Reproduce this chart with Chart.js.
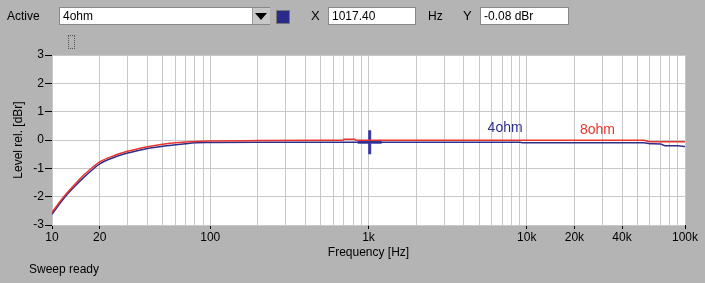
<!DOCTYPE html>
<html>
<head>
<meta charset="utf-8">
<style>
body { margin:0; background:#b4b4b4; font-family:"Liberation Sans", Arial, sans-serif; font-size:12px; color:#000; }
#wrap { position:relative; width:705px; height:283px; overflow:hidden; }
#wrap canvas { position:absolute; left:0; top:0; }
.lbl { position:absolute; }
.box { position:absolute; background:#fff; border:1px solid #888; box-sizing:border-box; height:18px; line-height:16px; padding-left:3px; }
</style>
</head>
<body>
<div id="wrap">
<canvas id="myChart" width="705" height="283"></canvas>
<span class="lbl" style="left:7px;top:9px">Active</span>
<div class="box" style="left:59px;top:7px;width:211px">4ohm</div>
<div style="position:absolute;left:252px;top:8px;width:17px;height:16px;background:#c8c8c8;border-left:1px solid #999"></div>
<div style="position:absolute;left:255px;top:13px;width:0;height:0;border-left:6px solid transparent;border-right:6px solid transparent;border-top:7px solid #000"></div>
<div style="position:absolute;left:276px;top:10px;width:14px;height:14px;background:#2a2a8a;border:1px solid #777;box-sizing:border-box"></div>
<span class="lbl" style="left:311px;top:8px;font-size:13px">X</span>
<div class="box" style="left:328px;top:7px;width:88px">1017.40</div>
<span class="lbl" style="left:428px;top:9px">Hz</span>
<span class="lbl" style="left:463px;top:8px;font-size:13px">Y</span>
<div class="box" style="left:480px;top:7px;width:89px">-0.08 dBr</div>
<div style="position:absolute;left:68px;top:35px;width:5px;height:12px;border:1px dotted #555"></div>
<span class="lbl" style="left:29px;top:262px">Sweep ready</span>
</div>

<script src="https://cdn.jsdelivr.net/npm/chart.js"></script>
<script>
// frequency points [Hz]
var freqs  = [10, 12, 14, 16, 18, 20, 25, 30, 35, 40, 50, 60, 70, 80, 100, 200, 500, 690, 700, 820, 830, 1000, 2000, 5000, 9000, 9500, 10000, 20000, 40000, 55000, 60000, 70000, 75000, 90000, 100000];
// 8 ohm level [dBr]
var ohm8   = [-2.55, -1.97, -1.55, -1.22, -0.97, -0.77, -0.54, -0.40, -0.31, -0.24, -0.15, -0.10, -0.07, -0.05, -0.035, -0.02, -0.01, -0.01, 0.03, 0.03, -0.01, -0.01, -0.01, -0.01, -0.01, -0.01, -0.01, -0.01, -0.01, -0.01, -0.06, -0.06, -0.06, -0.06, -0.06];
// 4 ohm level [dBr]
var ohm4   = [-2.62, -2.03, -1.62, -1.30, -1.05, -0.84, -0.60, -0.46, -0.37, -0.30, -0.22, -0.17, -0.13, -0.10, -0.09, -0.08, -0.08, -0.08, -0.08, -0.08, -0.08, -0.08, -0.08, -0.08, -0.08, -0.10, -0.10, -0.10, -0.10, -0.10, -0.13, -0.14, -0.20, -0.20, -0.23];
// cursor position
var cursorX = 1017.4;
var cursorY = -0.08;
// x-axis ticks
var gridFreqs = [];
for (var d = 10; d <= 10000; d *= 10) { for (var m = 1; m <= 9; m++) gridFreqs.push(d * m); }
gridFreqs.push(100000);
var xTickLabels = { 10: "10", 20: "20", 100: "100", 1000: "1k", 10000: "10k", 20000: "20k", 40000: "40k", 100000: "100k" };
var seriesLabels = [
  { text: "4ohm", x: 7300, y: 0.42, color: "#2e2e8c" },
  { text: "8ohm", x: 28000, y: 0.36, color: "#e8342c" }
];

var fontFam = '"Liberation Sans", Arial, sans-serif';

function pts(ys) {
  var out = [];
  for (var i = 0; i < freqs.length; i++) out.push({ x: freqs[i], y: ys[i] });
  return out;
}

var plotBg = {
  id: 'plotBg',
  beforeDraw: function(chart) {
    var a = chart.chartArea, c = chart.ctx;
    c.save(); c.fillStyle = '#ffffff'; c.fillRect(a.left, a.top, a.right - a.left, a.bottom - a.top); c.restore();
  },
  afterDatasetsDraw: function(chart) {
    var c = chart.ctx, xs = chart.scales.x, ys = chart.scales.y;
    c.save();
    c.font = '14px ' + fontFam;
    c.textAlign = 'center'; c.textBaseline = 'middle';
    for (var l of seriesLabels) {
      c.fillStyle = l.color;
      c.fillText(l.text, xs.getPixelForValue(l.x), ys.getPixelForValue(l.y));
    }
    c.restore();
  }
};

var ctx = document.getElementById('myChart').getContext('2d');
var myChart = new Chart(ctx, {
  type: 'line',
  data: {
    datasets: [{
      label: '8ohm',
      data: pts(ohm8),
      borderColor: '#e8342c',
      borderWidth: 1.5,
      pointRadius: 0,
      cubicInterpolationMode: 'monotone'
    }, {
      label: '4ohm',
      data: pts(ohm4),
      borderColor: '#2e2e8c',
      borderWidth: 1.5,
      pointRadius: 0,
      cubicInterpolationMode: 'monotone'
    }, {
      type: 'scatter',
      label: 'cursor',
      data: [{ x: cursorX, y: cursorY }],
      pointStyle: 'cross',
      pointRadius: 12,
      borderWidth: 3,
      borderColor: '#3a3aa8'
    }]
  },
  options: {
    animation: false,
    responsive: false,
    layout: { padding: { top: 55, right: 20, left: 0, bottom: 0 } },
    plugins: { legend: { display: false }, tooltip: { enabled: false } },
    scales: {
      x: {
        type: 'logarithmic',
        min: 10,
        max: 100000,
        afterBuildTicks: function(scale) { scale.ticks = gridFreqs.map(function(v) { return { value: v }; }); },
        afterFit: function(scale) { scale.height = 58; },
        ticks: {
          autoSkip: false, maxRotation: 0, padding: 1,
          color: '#000',
          font: { family: fontFam, size: 12 },
          callback: function(v) { return xTickLabels[v] || ''; }
        },
        grid: {
          color: '#c8c8c8',
          tickLength: 4,
          tickColor: function(c) { return (c.tick && xTickLabels[c.tick.value]) ? '#000' : 'rgba(0,0,0,0)'; }
        },
        border: { display: false },
        title: {
          display: true, text: 'Frequency [Hz]', color: '#000',
          font: { family: fontFam, size: 12 },
          padding: { top: 0, bottom: 23 }
        }
      },
      y: {
        min: -3, max: 3,
        afterFit: function(scale) { scale.width = 52; },
        ticks: {
          stepSize: 1, padding: 1, color: '#000',
          font: { family: fontFam, size: 12 }
        },
        grid: { color: '#c8c8c8', tickLength: 7, tickColor: '#000' },
        border: { display: false },
        title: {
          display: true, text: 'Level rel. [dBr]', color: '#000',
          font: { family: fontFam, size: 12 },
          padding: { top: 11, bottom: 0 }
        }
      }
    }
  },
  plugins: [plotBg]
});
</script>
</body>
</html>
